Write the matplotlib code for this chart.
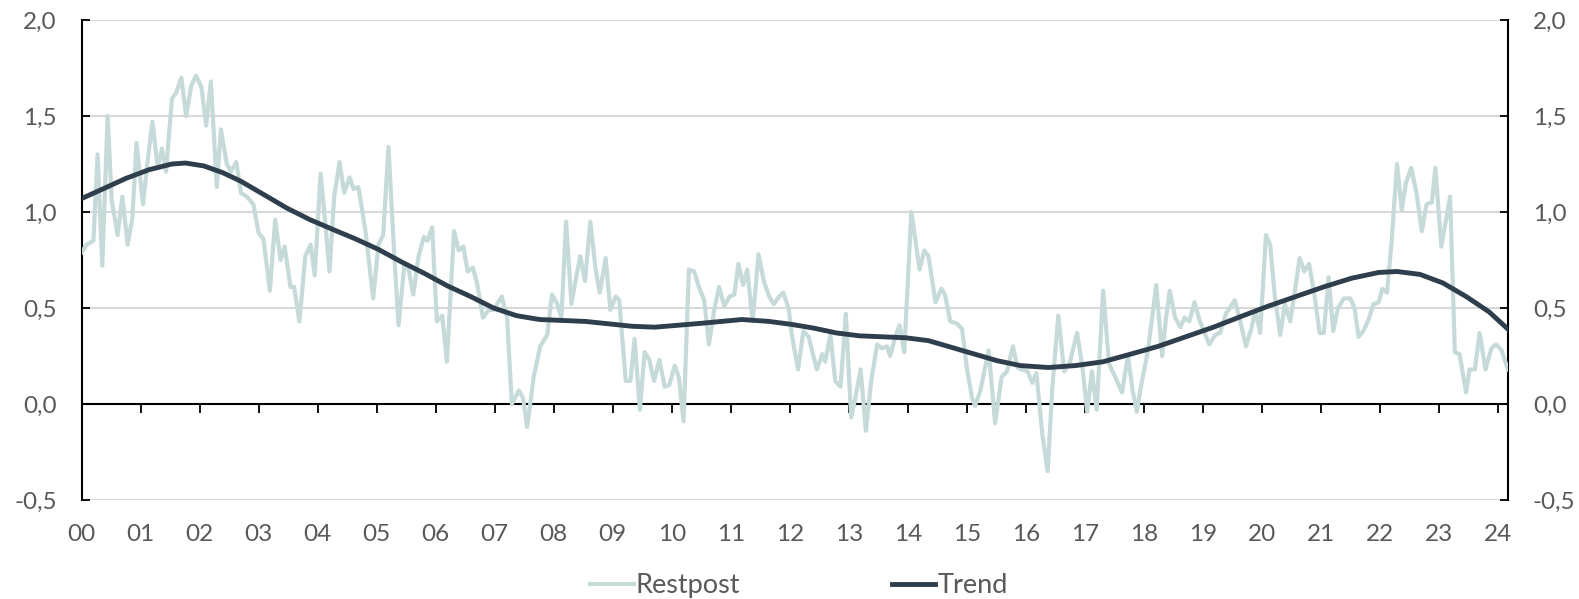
import matplotlib
matplotlib.use('Agg')
import matplotlib.pyplot as plt

# Restpost (decimal year, value)
rest_t = [
    2000.00, 2000.085, 2000.20, 2000.27, 2000.35, 2000.44, 2000.51, 2000.61, 2000.69, 2000.78,
    2000.86, 2000.93, 2001.04, 2001.12, 2001.20, 2001.29, 2001.36, 2001.43, 2001.53, 2001.60,
    2001.69, 2001.77, 2001.86, 2001.94, 2002.03, 2002.11, 2002.19, 2002.29, 2002.36, 2002.46,
    2002.53, 2002.62, 2002.70, 2002.80, 2002.91, 2003.00, 2003.08, 2003.19, 2003.28, 2003.37,
    2003.44, 2003.54, 2003.60, 2003.69, 2003.79, 2003.88, 2003.95, 2004.05, 2004.13, 2004.20,
    2004.28, 2004.37, 2004.45, 2004.54, 2004.61, 2004.69, 2004.81, 2004.94, 2005.03, 2005.11,
    2005.20, 2005.29, 2005.37, 2005.47, 2005.54, 2005.62, 2005.71, 2005.80, 2005.86, 2005.94,
    2006.02, 2006.11, 2006.19, 2006.31, 2006.39, 2006.47, 2006.54, 2006.63, 2006.70, 2006.80,
    2006.90, 2006.98, 2007.12, 2007.21, 2007.29, 2007.41, 2007.48, 2007.55, 2007.66, 2007.77,
    2007.89, 2007.97, 2008.06, 2008.13, 2008.21, 2008.30, 2008.38, 2008.45, 2008.53, 2008.62,
    2008.71, 2008.78, 2008.88, 2008.96, 2009.05, 2009.11, 2009.22, 2009.30, 2009.37, 2009.46,
    2009.54, 2009.62, 2009.70, 2009.79, 2009.88, 2009.96, 2010.05, 2010.12, 2010.20, 2010.29,
    2010.38, 2010.46, 2010.55, 2010.63, 2010.72, 2010.80, 2010.89, 2010.98, 2011.06, 2011.13,
    2011.21, 2011.28, 2011.37, 2011.47, 2011.56, 2011.65, 2011.73, 2011.82, 2011.89, 2011.98,
    2012.04, 2012.14, 2012.23, 2012.32, 2012.39, 2012.46, 2012.55, 2012.60, 2012.69, 2012.77,
    2012.86, 2012.95, 2013.04, 2013.11, 2013.20, 2013.29, 2013.38, 2013.48, 2013.56, 2013.65,
    2013.70, 2013.79, 2013.86, 2013.94, 2014.06, 2014.13, 2014.20, 2014.28, 2014.35, 2014.47,
    2014.57, 2014.63, 2014.72, 2014.83, 2014.92, 2015.00, 2015.09, 2015.14, 2015.23, 2015.37,
    2015.48, 2015.59, 2015.68, 2015.78, 2015.86, 2015.93, 2016.03, 2016.11, 2016.18, 2016.28,
    2016.37, 2016.45, 2016.55, 2016.65, 2016.74, 2016.87, 2016.96, 2017.04, 2017.12, 2017.20,
    2017.31, 2017.41, 2017.53, 2017.63, 2017.73, 2017.81, 2017.88, 2017.95, 2018.07, 2018.21,
    2018.31, 2018.38, 2018.44, 2018.53, 2018.62, 2018.69, 2018.77, 2018.86, 2018.94, 2019.03,
    2019.11, 2019.21, 2019.29, 2019.39, 2019.54, 2019.62, 2019.73, 2019.82, 2019.89, 2019.97,
    2020.07, 2020.14, 2020.22, 2020.31, 2020.39, 2020.48, 2020.56, 2020.64, 2020.72, 2020.80,
    2020.88, 2020.98, 2021.05, 2021.13, 2021.21, 2021.29, 2021.39, 2021.50, 2021.57, 2021.64,
    2021.72, 2021.81, 2021.89, 2021.98, 2022.04, 2022.12, 2022.20, 2022.29, 2022.37, 2022.44,
    2022.53, 2022.62, 2022.71, 2022.79, 2022.88, 2022.94, 2023.04, 2023.19, 2023.27, 2023.35,
    2023.46, 2023.52, 2023.61, 2023.69, 2023.79, 2023.89, 2023.97, 2024.06, 2024.17,
]
rest_v = [
    0.79, 0.83, 0.85, 1.30, 0.72, 1.50, 1.06, 0.88, 1.08, 0.83,
    0.97, 1.36, 1.04, 1.27, 1.47, 1.23, 1.33, 1.21, 1.59, 1.62,
    1.70, 1.50, 1.66, 1.71, 1.65, 1.45, 1.68, 1.13, 1.43, 1.25,
    1.21, 1.26, 1.10, 1.08, 1.04, 0.89, 0.86, 0.59, 0.96, 0.75,
    0.82, 0.61, 0.61, 0.43, 0.77, 0.83, 0.67, 1.20, 0.94, 0.69,
    1.08, 1.26, 1.10, 1.18, 1.12, 1.13, 0.90, 0.55, 0.83, 0.88,
    1.34, 0.82, 0.41, 0.73, 0.70, 0.57, 0.77, 0.87, 0.85, 0.92,
    0.43, 0.46, 0.22, 0.90, 0.80, 0.82, 0.69, 0.71, 0.63, 0.45,
    0.49, 0.49, 0.56, 0.45, 0.00, 0.07, 0.03, -0.12, 0.14, 0.30,
    0.36, 0.57, 0.52, 0.45, 0.95, 0.52, 0.66, 0.77, 0.64, 0.95,
    0.70, 0.58, 0.76, 0.49, 0.56, 0.54, 0.12, 0.12, 0.34, -0.03,
    0.27, 0.23, 0.12, 0.23, 0.09, 0.10, 0.20, 0.14, -0.09, 0.70,
    0.69, 0.61, 0.54, 0.31, 0.49, 0.61, 0.51, 0.56, 0.57, 0.73,
    0.62, 0.70, 0.43, 0.78, 0.64, 0.56, 0.52, 0.56, 0.58, 0.50,
    0.35, 0.18, 0.38, 0.35, 0.26, 0.18, 0.26, 0.22, 0.36, 0.12,
    0.09, 0.47, -0.07, 0.03, 0.18, -0.14, 0.12, 0.31, 0.29, 0.30,
    0.25, 0.35, 0.41, 0.27, 1.00, 0.85, 0.70, 0.80, 0.77, 0.53,
    0.60, 0.57, 0.43, 0.42, 0.39, 0.19, 0.03, -0.01, 0.07, 0.28,
    -0.10, 0.14, 0.17, 0.30, 0.19, 0.18, 0.17, 0.11, 0.16, -0.16,
    -0.35, 0.09, 0.46, 0.17, 0.21, 0.37, 0.19, -0.04, 0.17, -0.03,
    0.59, 0.21, 0.13, 0.06, 0.25, 0.07, -0.04, 0.09, 0.28, 0.62,
    0.25, 0.46, 0.59, 0.45, 0.40, 0.45, 0.43, 0.53, 0.44, 0.37,
    0.31, 0.36, 0.37, 0.47, 0.54, 0.45, 0.30, 0.39, 0.49, 0.37,
    0.88, 0.83, 0.56, 0.36, 0.52, 0.43, 0.59, 0.76, 0.69, 0.73,
    0.59, 0.37, 0.37, 0.66, 0.38, 0.50, 0.55, 0.55, 0.50, 0.35,
    0.38, 0.44, 0.52, 0.53, 0.60, 0.58, 0.85, 1.25, 1.01, 1.15,
    1.23, 1.10, 0.90, 1.04, 1.05, 1.23, 0.82, 1.08, 0.27, 0.26,
    0.06, 0.18, 0.18, 0.37, 0.18, 0.29, 0.31, 0.28, 0.18,
]

# Trend
trend_t = [
    2000.00, 2000.36, 2000.75, 2001.14, 2001.53, 2001.76, 2002.07, 2002.39, 2002.70, 2003.09,
    2003.48, 2003.87, 2004.25, 2004.64, 2005.03, 2005.42, 2005.81, 2006.20, 2006.59, 2006.98,
    2007.37, 2007.76, 2008.54, 2009.32, 2009.71, 2010.10, 2010.49, 2011.19, 2011.65, 2012.02,
    2012.41, 2012.79, 2013.18, 2013.57, 2013.96, 2014.35, 2014.74, 2015.13, 2015.52, 2015.91,
    2016.38, 2016.84, 2017.31, 2017.78, 2018.24, 2018.71, 2019.18, 2019.64, 2020.11, 2020.58,
    2021.05, 2021.52, 2021.98, 2022.29, 2022.68, 2023.07, 2023.46, 2023.85, 2024.17,
]
trend_v = [
    1.07, 1.12, 1.175, 1.22, 1.25, 1.255, 1.24, 1.205, 1.16, 1.09,
    1.02, 0.96, 0.91, 0.86, 0.805, 0.74, 0.68, 0.615, 0.56, 0.50,
    0.46, 0.44, 0.43, 0.405, 0.40, 0.41, 0.42, 0.44, 0.43, 0.415,
    0.395, 0.37, 0.355, 0.35, 0.345, 0.33, 0.295, 0.26, 0.225, 0.20,
    0.19, 0.20, 0.22, 0.26, 0.30, 0.35, 0.40, 0.455, 0.51, 0.56,
    0.61, 0.655, 0.685, 0.69, 0.675, 0.63, 0.56, 0.48, 0.39,
]

years = list(range(2000, 2025))
yticks = [-0.5, 0.0, 0.5, 1.0, 1.5, 2.0]

text_col = '#595959'
plt.rcParams['font.family'] = ['Lato', 'DejaVu Sans']
plt.rcParams['font.size'] = 17.5

fig = plt.figure(figsize=(15.79, 5.99), dpi=100)
ax = fig.add_axes([0.0517, 0.1653, 0.955 - 0.0517, 0.9666 - 0.1653])

ax.plot(rest_t, rest_v, color='#C5DAD9', lw=3.0, solid_joinstyle='round',
        label='Restpost', zorder=3)
ax.plot(trend_t, trend_v, color='#2E3E4C', lw=3.5, solid_joinstyle='round',
        label='Trend', zorder=4)

ax.set_xlim(2000, 2024.17)
ax.set_ylim(-0.5, 2.0)

# gridlines and zero line
for y in yticks:
    if y == 0:
        ax.axhline(0, color='black', lw=1.5, zorder=2)
    else:
        ax.axhline(y, color='#D9D9D9', lw=1.5, zorder=1)

ax.spines['top'].set_visible(False)
ax.spines['bottom'].set_visible(False)
for s in ('left', 'right'):
    ax.spines[s].set_color('black')
    ax.spines[s].set_linewidth(1.5)

fmt = lambda v: f'{v:.1f}'.replace('.', ',')
ax.set_yticks(yticks)
ax.set_yticklabels([fmt(v) for v in yticks])
ax.tick_params(axis='y', which='both', direction='in', length=6, width=1.3,
               colors='black', pad=18,
               left=True, right=True, labelleft=True, labelright=True)
for t in ax.yaxis.get_major_ticks():
    t.label1.set_color(text_col)
    t.label2.set_color(text_col)

ax.set_xticks(years)
ax.set_xticklabels([f'{y % 100:02d}' for y in years])
ax.tick_params(axis='x', length=0, pad=17, labelcolor=text_col)

# year ticks on the zero line
sec = ax.secondary_xaxis(0.2)
sec.set_xticks(years)
sec.set_xticklabels([])
sec.spines['bottom'].set_visible(False)
sec.tick_params(axis='x', direction='out', length=6.7, width=1.3, color='black')

leg = fig.legend(loc='center', bbox_to_anchor=(0.506, 0.022), ncol=2, frameon=False,
                 handlelength=1.6, handletextpad=0.08, columnspacing=5.6,
                 fontsize=19.5)
for t in leg.get_texts():
    t.set_color(text_col)

fig.savefig('out.png', dpi=100)
